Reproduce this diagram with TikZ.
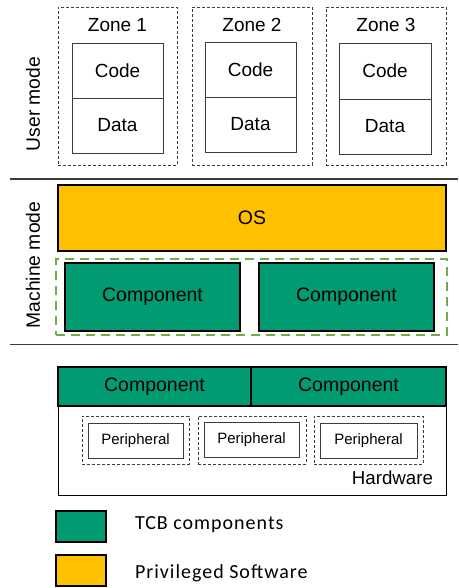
\documentclass[tikz,border=0pt]{standalone}
\usepackage{fontspec}
\setmainfont{Liberation Sans}
\newfontfamily\legendfont[LetterSpace=5]{Carlito}
\definecolor{tcbgreen}{RGB}{0,155,115}
\definecolor{privorange}{RGB}{255,192,0}
\definecolor{dashgreen}{RGB}{112,173,71}
\definecolor{sepgray}{RGB}{60,60,60}
\begin{document}
\begin{tikzpicture}[x=1pt,y=-1pt,
  every node/.style={inner sep=0pt, outer sep=0pt},
  zonebox/.style={draw=sepgray, dash pattern=on 3pt off 2pt, line width=0.8pt, rectangle},
  cellbox/.style={draw=sepgray, line width=0.9pt, fill=white, rectangle, minimum width=91pt, minimum height=55pt, font=\fontsize{19}{22}\selectfont},
  greenbox/.style={draw=black, line width=2.2pt, fill=tcbgreen, rectangle, font=\fontsize{19.5}{22}\selectfont},
  orangebox/.style={draw=black, line width=2.2pt, fill=privorange, rectangle, font=\fontsize{19.5}{22}\selectfont},
  periouter/.style={draw=sepgray, dash pattern=on 3pt off 2pt, line width=0.8pt, rectangle, minimum height=48pt},
  periinner/.style={draw=sepgray, line width=0.9pt, fill=white, rectangle, minimum width=95pt, minimum height=35pt, font=\fontsize{15}{18}\selectfont},
  modelabel/.style={rotate=90, font=\fontsize{19.3}{22}\selectfont},
  seprule/.style={draw=sepgray, line width=1.3pt},
  legendtext/.style={anchor=west, font=\legendfont\fontsize{20}{24}\selectfont}
]
\useasboundingbox (0,0) rectangle (458,588);
% User mode
\node[zonebox, minimum width=119pt, minimum height=158pt] (z1) at (117.5,86) {};
\node[zonebox, minimum width=120pt, minimum height=158pt] (z2) at (252,86) {};
\node[zonebox, minimum width=120pt, minimum height=158pt] (z3) at (386,86) {};
\node[font=\fontsize{19}{22}\selectfont] (z1t) at (117.5,25) {Zone 1};
\node[font=\fontsize{19}{22}\selectfont] (z2t) at (252,25) {Zone 2};
\node[font=\fontsize{19}{22}\selectfont] (z3t) at (386,25) {Zone 3};
\node[cellbox] (c1) at (117.5,70.5) {Code};
\node[cellbox] (d1) at (117.5,125.5) {Data};
\node[cellbox] (c2) at (250.5,69.5) {Code};
\node[cellbox] (d2) at (250.5,124.5) {Data};
\node[cellbox, minimum width=92pt, minimum height=56pt] (c3) at (385,71) {Code};
\node[cellbox, minimum width=92pt] (d3) at (385,126.5) {Data};
\node[modelabel] (um) at (33,104) {User mode};
% separators
\coordinate (s1a) at (10,179); \coordinate (s1b) at (458,179);
\coordinate (s2a) at (10,344.5); \coordinate (s2b) at (458,344.5);
\draw[seprule] (s1a) -- (s1b);
\draw[seprule] (s2a) -- (s2b);
% Machine mode
\node[orangebox, minimum width=388pt, minimum height=66pt] (os) at (252,218) {OS};
\node[draw=dashgreen, line width=2pt, dash pattern=on 9pt off 6pt, rectangle, minimum width=391pt, minimum height=76pt] (tcb) at (251.5,297) {};
\node[greenbox, minimum width=175pt, minimum height=68pt] (m1) at (152.5,297) {Component};
\node[greenbox, minimum width=175pt, minimum height=68pt] (m2) at (346.5,297) {Component};
\node[modelabel] (mm) at (33,265) {Machine mode};
% Hardware
\node[draw=black, line width=1pt, rectangle, minimum width=388pt, minimum height=128pt] (hw) at (252,431) {};
\node[greenbox, minimum width=193pt, minimum height=39pt] (h1) at (154.5,386.5) {Component};
\node[greenbox, minimum width=195pt, minimum height=39pt] (h2) at (348.5,386.5) {Component};
\node[periouter, minimum width=107pt] (po1) at (135.5,440) {};
\node[periouter, minimum width=108pt] (po2) at (252,440) {};
\node[periouter, minimum width=109pt] (po3) at (368.5,440) {};
\node[periinner] (pi1) at (135.5,440.5) {Peripheral};
\node[periinner] (pi2) at (251.5,440) {Peripheral};
\node[periinner, minimum width=97pt] (pi3) at (368.5,441) {Peripheral};
\node[anchor=east, font=\fontsize{18.7}{22}\selectfont] (hwt) at (433,478) {Hardware};
% Legend
\node[greenbox, minimum width=50pt, minimum height=31pt] (lg) at (81,526.5) {};
\node[orangebox, minimum width=50pt, minimum height=31pt] (lo) at (81,570.5) {};
\node[legendtext] (lgt) at (135,525) {TCB components};
\node[legendtext] (lot) at (135,573) {Privileged Software};
\end{tikzpicture}
\end{document}
